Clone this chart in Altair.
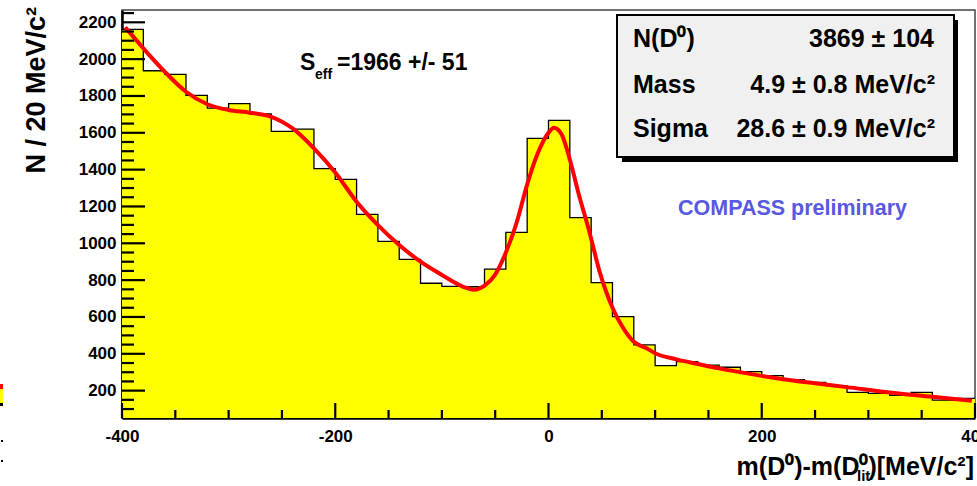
import altair as alt
import pandas as pd

# ---------------- data ----------------
bin_left = list(range(-400, 400, 20))
counts = [2162, 1937, 1917, 1803, 1734, 1758, 1702, 1608, 1620, 1406,
          1347, 1157, 1011, 913, 783, 766, 764, 860, 1059, 1570,
          1668, 1139, 786, 602, 448, 336, 357, 339, 327, 303,
          281, 260, 245, 227, 191, 185, 175, 191, 149, 158]

fit_x = [-397, -380, -360, -340, -320, -300, -280, -260, -240, -220,
         -200, -180, -160, -140, -120, -100, -80, -70, -60, -50,
         -40, -30, -20, -10, 0, 5, 12, 20, 28, 38,
         48, 60, 70, 80, 92, 100, 120, 140, 160, 180,
         200, 220, 250, 280, 320, 360, 397]
fit_y = [2173, 2059, 1932, 1823, 1755, 1724, 1709, 1687, 1624, 1516,
         1385, 1226, 1099, 991, 900, 828, 764, 748, 770, 830,
         950, 1110, 1320, 1490, 1600, 1628, 1595, 1455, 1275, 1070,
         845, 650, 540, 465, 430, 403, 370, 345, 321, 300,
         280, 262, 240, 219, 190, 167, 145]

x_major = [-400, -200, 0, 200, 400]
x_minor = [v for v in range(-350, 400, 50) if v % 200 != 0]
y_major = list(range(200, 2201, 200))
y_minor = [v for v in range(100, 2251, 50) if v % 200 != 0]

X_DOMAIN = [-400, 400]
Y_DOMAIN = [51.4, 2266.8]

W, H = 853, 408
OX, OY = 122, 10          # plot origin inside the 977x486 page
FONT = "Liberation Sans, Arial, Helvetica, sans-serif"

xs = alt.Scale(domain=X_DOMAIN, nice=False, zero=False)
ys = alt.Scale(domain=Y_DOMAIN, nice=False, zero=False)

hist = pd.DataFrame({"x": bin_left + [400], "n": counts + [counts[-1]]})
fit = pd.DataFrame({"x": fit_x, "y": fit_y})

area = alt.Chart(hist).mark_area(interpolate="step-after", color="#ffff00",
                                 opacity=1, clip=True).encode(
    x=alt.X("x:Q", scale=xs,
            axis=alt.Axis(values=x_major, title=None, labelPadding=10,
                          labelFlush=False, labelOverlap=False,
                          labelExpr="'' + datum.value")),
    y=alt.Y("n:Q", scale=ys,
            axis=alt.Axis(values=y_major, title=None, labelPadding=6,
                          labelFlush=False, labelOverlap=False,
                          labelExpr="'' + datum.value")),
    y2=alt.datum(Y_DOMAIN[0]),
)

outline = alt.Chart(hist).mark_line(interpolate="step-after", color="black",
                                    strokeWidth=1.3, clip=True).encode(
    x=alt.X("x:Q", scale=xs), y=alt.Y("n:Q", scale=ys))

curve = alt.Chart(fit).mark_line(interpolate="monotone", color="#ff0000",
                                 strokeWidth=4, clip=True).encode(
    x=alt.X("x:Q", scale=xs), y=alt.Y("y:Q", scale=ys))


def yticks(vals, length):
    return alt.Chart(pd.DataFrame({"v": vals})).mark_rule(
        color="black", strokeWidth=2.2).encode(
        y=alt.Y("v:Q", scale=ys), x=alt.value(0), x2=alt.value(length))


def xticks(vals, length):
    return alt.Chart(pd.DataFrame({"v": vals})).mark_rule(
        color="black", strokeWidth=2.2).encode(
        x=alt.X("v:Q", scale=xs), y=alt.value(H), y2=alt.value(H - length))


def txt(s, X, Y, size, align="left", baseline="alphabetic", color="black",
        angle=0, weight="bold"):
    return alt.Chart(pd.DataFrame({"t": [s]})).mark_text(
        align=align, baseline=baseline, font=FONT, fontSize=size,
        fontWeight=weight, color=color, angle=angle).encode(
        text="t:N", x=alt.value(X - OX), y=alt.value(Y - OY))


def box(x1, y1, x2, y2, fill, stroke=None, sw=0):
    kw = dict(fill=fill)
    if stroke:
        kw.update(stroke=stroke, strokeWidth=sw)
    return alt.Chart(pd.DataFrame({"a": [0]})).mark_rect(**kw).encode(
        x=alt.value(x1 - OX), x2=alt.value(x2 - OX),
        y=alt.value(y1 - OY), y2=alt.value(y2 - OY))


layers = [
    area, outline, curve,
    yticks(y_major, 23), yticks(y_minor, 12),
    xticks(x_major, 15), xticks(x_minor, 8),
    # statistics box
    box(622, 20, 958, 162, "black"),
    box(617, 15, 954, 157, "#f0f0f0", "black", 2),
    txt("N(D\u2070)", 633, 46.5, 25),
    txt("3869 \u00b1 104", 934, 46.5, 25, align="right"),
    txt("Mass", 633, 92.5, 25),
    txt("4.9 \u00b1 0.8 MeV/c\u00b2", 935, 92.5, 25, align="right"),
    txt("Sigma", 633, 136.5, 25),
    txt("28.6 \u00b1 0.9 MeV/c\u00b2", 935, 136.5, 25, align="right"),
    # annotations
    txt("S", 300, 70, 23),
    txt("eff", 315, 79, 14),
    txt("=1966 +/- 51", 337, 70, 23),
    txt("COMPASS preliminary", 792.5, 215, 21.5, align="center",
        color="#5858e0"),
    # axis titles
    txt("m(D\u2070)-m(D\u2070)[MeV/c\u00b2]", 974, 475, 25, align="right"),
    txt("lit", 857, 469, 15, baseline="top"),
    txt("N / 20 MeV/c\u00b2", 45, 7, 27, align="right", angle=270),
    # clipped fragment at the left page edge
    box(0, 384, 3, 389, "#ff0000"),
    box(0, 389, 3, 403, "#ffff00"),
    box(0, 403, 3, 406, "black"),
    box(1, 440, 3, 442, "black"),
    box(1, 460, 3, 462, "black"),
]

chart = alt.layer(*layers).properties(
    width=W, height=H,
    padding={"left": OX, "top": OY, "right": 977 - OX - W, "bottom": 486 - OY - H},
    autosize=alt.AutoSizeParams(type="none"),
    background="white",
).configure_view(
    stroke="#444444", strokeWidth=1.5
).configure_axis(
    domainColor="black", domainWidth=2.5, ticks=False, grid=False,
    labelFont=FONT, labelFontSize=17, labelFontWeight="bold",
    labelColor="black", zindex=1,
)

chart.save("out.html", embed_options={"renderer": "svg", "actions": False})
